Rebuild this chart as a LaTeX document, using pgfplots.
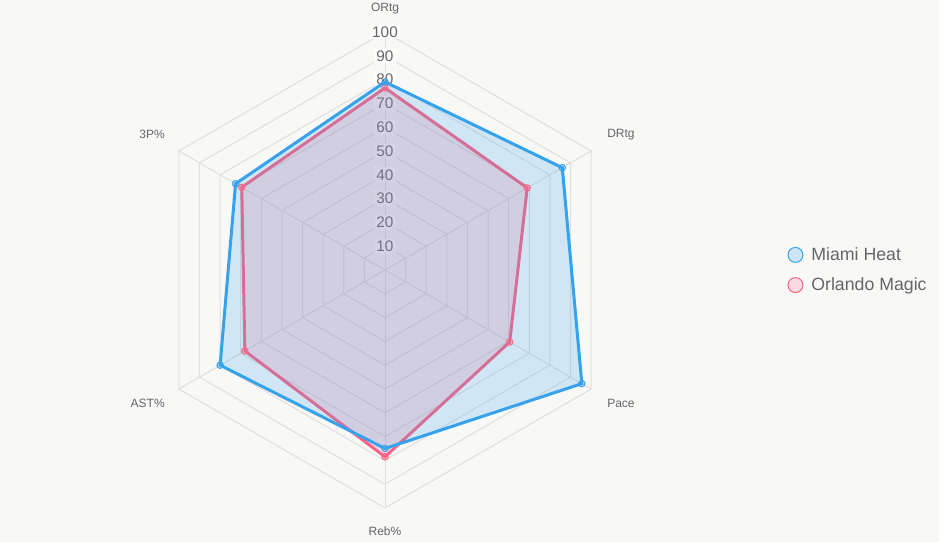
\documentclass[border=0pt]{standalone}
\usepackage{fontspec}
\setmainfont{Liberation Sans}
\usepackage{pgfplots}
\pgfplotsset{compat=1.18}
\usepgfplotslibrary{polar}
\definecolor{miami}{RGB}{54,162,235}
\definecolor{orlando}{RGB}{255,99,132}
\definecolor{bg}{RGB}{248,248,247}
\definecolor{gridc}{RGB}{223,223,222}
\definecolor{txt}{RGB}{102,102,102}
\begin{document}
\begin{tikzpicture}
\fill[bg] (0,0) rectangle (704.25pt,406.5pt);
\useasboundingbox (0,0) rectangle (704.25pt,406.5pt);
\begin{polaraxis}[
  at={(288.75pt,204pt)}, anchor=center,
  width=357pt, height=357pt, scale only axis,
  xmin=0, xmax=360, ymin=0, ymax=100,
  hide axis, clip=false,
  legend style={at={(1.345,0.5)}, anchor=west, draw=none, fill=none,
    font=\fontsize{13.3}{15.5}\selectfont, text=txt, row sep=7.5pt,
    cells={anchor=west}, inner sep=0pt},
]
% grid hexagons
\pgfplotsinvokeforeach{10,20,30,40,50,60,70,80,90,100}{
  \addplot[gridc, line width=0.75pt, no marks, forget plot]
    coordinates {(90,#1)(30,#1)(330,#1)(270,#1)(210,#1)(150,#1)} -- cycle;
}
% spokes
\pgfplotsinvokeforeach{90,30,330,270,210,150}{
  \addplot[gridc, line width=0.75pt, no marks, forget plot]
    coordinates {(#1,0)(#1,100)};
}
% tick labels
\pgfplotsinvokeforeach{10,20,30,40,50,60,70,80,90,100}{
  \node[font=\fontsize{11.5}{13}\selectfont, text=txt, fill=white, fill opacity=0.75,
        text opacity=1, inner sep=1.5pt] at (axis cs:90,#1) {#1};
}
% Orlando Magic (drawn first, under Miami)
\addplot[orlando, line width=2.25pt, line join=miter, fill=orlando, fill opacity=0.2,
  draw opacity=1, mark=*, mark size=2.4pt,
  mark options={line width=0.75pt, fill=orlando, fill opacity=0.2, draw opacity=1}, forget plot]
  coordinates {(90,76.5)(30,69)(330,60.5)(270,78.5)(210,68)(150,69.5)} -- cycle;
% Miami Heat
\addplot[miami, line width=2.25pt, line join=miter, fill=miami, fill opacity=0.2,
  draw opacity=1, mark=*, mark size=2.4pt,
  mark options={line width=0.75pt, fill=miami, fill opacity=0.2, draw opacity=1}, forget plot]
  coordinates {(90,79)(30,86)(330,95.5)(270,75)(210,80)(150,72.5)} -- cycle;
% legend
\addlegendimage{legend image code/.code={\draw[draw=miami, fill=miami, fill opacity=0.2, draw opacity=1, line width=0.75pt] (5.6pt,0pt) circle (5.6pt); \path[draw=none, fill=none] (0pt,-1pt) rectangle (15.5pt,1pt);}}
\addlegendentry{Miami Heat}
\addlegendimage{legend image code/.code={\draw[draw=orlando, fill=orlando, fill opacity=0.2, draw opacity=1, line width=0.75pt] (5.6pt,0pt) circle (5.6pt); \path[draw=none, fill=none] (0pt,-1pt) rectangle (15.5pt,1pt);}}
\addlegendentry{Orlando Magic}
\end{polaraxis}
\begin{scope}[every node/.style={font=\fontsize{9}{11}\selectfont, text=txt, inner sep=0pt}]
\node[anchor=center] at (288.75pt,400pt) {ORtg};
\node[anchor=west] at (455.25pt,305.5pt) {DRtg};
\node[anchor=west] at (455.25pt,104.25pt) {Pace};
\node[anchor=center] at (288.75pt,8.25pt) {Reb\%};
\node[anchor=east] at (123.75pt,104.25pt) {AST\%};
\node[anchor=east] at (123.75pt,305.5pt) {3P\%};
\end{scope}
\end{tikzpicture}
\end{document}
